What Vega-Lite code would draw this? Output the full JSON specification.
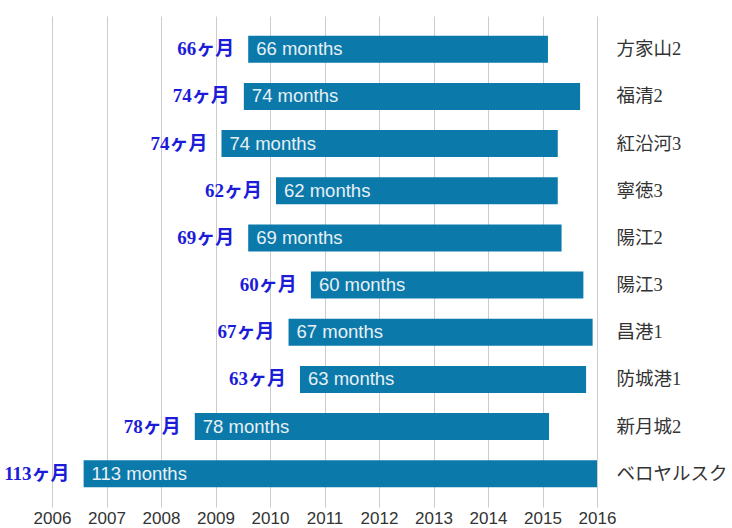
{
  "$schema": "https://vega.github.io/schema/vega-lite/v6.json",
  "width": 545,
  "height": 491,
  "autosize": "none",
  "padding": {"left": 52, "top": 16, "right": 135, "bottom": 21},
  "background": "white",
  "config": {"view": {"stroke": null}},
  "data": {
    "values": [
      {"plant": "方家山2", "start": 2009.60, "end": 2015.10, "months": 66, "en": "66 months", "ja": "66ヶ月"},
      {"plant": "福清2", "start": 2009.52, "end": 2015.69, "months": 74, "en": "74 months", "ja": "74ヶ月"},
      {"plant": "紅沿河3", "start": 2009.11, "end": 2015.28, "months": 74, "en": "74 months", "ja": "74ヶ月"},
      {"plant": "寧徳3", "start": 2010.11, "end": 2015.28, "months": 62, "en": "62 months", "ja": "62ヶ月"},
      {"plant": "陽江2", "start": 2009.60, "end": 2015.35, "months": 69, "en": "69 months", "ja": "69ヶ月"},
      {"plant": "陽江3", "start": 2010.75, "end": 2015.75, "months": 60, "en": "60 months", "ja": "60ヶ月"},
      {"plant": "昌港1", "start": 2010.34, "end": 2015.92, "months": 67, "en": "67 months", "ja": "67ヶ月"},
      {"plant": "防城港1", "start": 2010.55, "end": 2015.80, "months": 63, "en": "63 months", "ja": "63ヶ月"},
      {"plant": "新月城2", "start": 2008.62, "end": 2015.12, "months": 78, "en": "78 months", "ja": "78ヶ月"},
      {"plant": "ベロヤルスク", "start": 2006.58, "end": 2016.00, "months": 113, "en": "113 months", "ja": "113ヶ月"}
    ]
  },
  "encoding": {
    "y": {
      "field": "plant",
      "type": "nominal",
      "sort": null,
      "scale": {"paddingInner": 0.428, "paddingOuter": 0.419},
      "axis": {
        "orient": "right",
        "title": null,
        "ticks": false,
        "domain": false,
        "grid": false,
        "labelPadding": 19,
        "labelFont": "Liberation Serif, Noto Sans CJK JP",
        "labelFontSize": 18.5,
        "labelColor": "#333333",
        "labelLimit": 200
      }
    }
  },
  "layer": [
    {
      "mark": {"type": "bar", "color": "#0b7aab"},
      "encoding": {
        "x": {
          "field": "start",
          "type": "quantitative",
          "scale": {"domain": [2006, 2016], "nice": false, "zero": false},
          "axis": {
            "title": null,
            "values": [2006, 2007, 2008, 2009, 2010, 2011, 2012, 2013, 2014, 2015, 2016],
            "format": "d",
            "labelOverlap": false,
            "labelFlush": false,
            "grid": true,
            "gridColor": "#cccccc",
            "gridWidth": 1,
            "ticks": false,
            "domain": false,
            "labelPadding": 3,
            "labelFont": "Liberation Sans",
            "labelFontSize": 17,
            "labelColor": "#333333"
          }
        },
        "x2": {"field": "end"}
      }
    },
    {
      "mark": {
        "type": "text",
        "align": "left",
        "dx": 8,
        "font": "Liberation Sans",
        "fontSize": 18.5,
        "color": "#e8f0f5"
      },
      "encoding": {
        "x": {"field": "start", "type": "quantitative"},
        "text": {"field": "en"}
      }
    },
    {
      "mark": {
        "type": "text",
        "align": "right",
        "dx": -14,
        "font": "Liberation Serif, Noto Sans CJK JP",
        "fontSize": 19,
        "fontWeight": "bold",
        "color": "#1c1cd8"
      },
      "encoding": {
        "x": {"field": "start", "type": "quantitative"},
        "text": {"field": "ja"}
      }
    }
  ]
}
